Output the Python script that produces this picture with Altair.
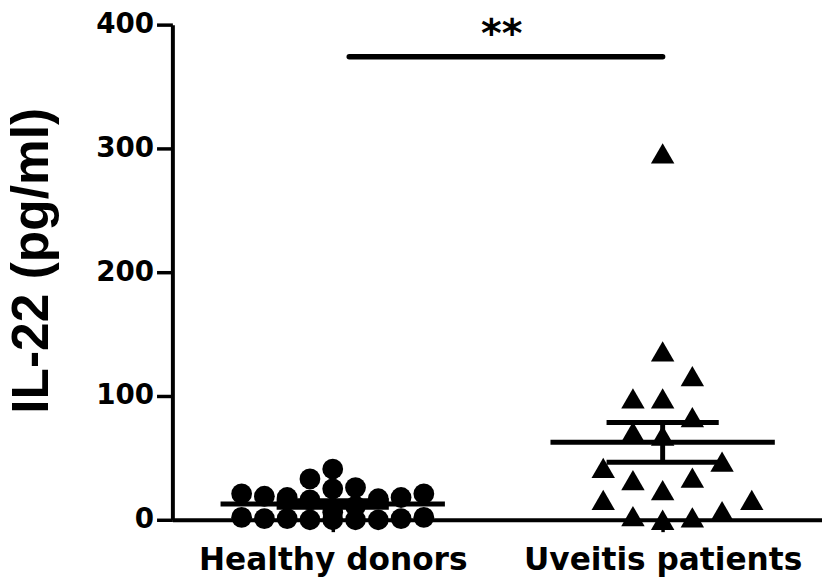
import altair as alt
import pandas as pd
import numpy as np

# ---- data ----
groups = ["Healthy donors", "Uveitis patients"]
healthy = [0, 0, 0, 0, 1, 1, 1, 2, 2,
           17, 18, 18, 19,
           6, 11, 16, 21, 26,
           21, 25,
           33, 41]
uveitis = [0, 2, 3, 7, 16, 16, 24, 32, 34, 42, 47,
           68, 71, 83, 98, 98, 116, 136, 296]
y_ticks = [0, 100, 200, 300, 400]
sig_bar = [0.05, 1.0]      # bracket span in category units
sig_value = 374            # bracket height (pg/ml)
sig_text = "**"

# ---- layout constants ----
W, H = 656, 500
Y_MAX = 400
PX_PER_UNIT = H / Y_MAX
X_DOMAIN = [-0.486, 1.483]
PX_PER_CAT = W / (X_DOMAIN[1] - X_DOMAIN[0])


def swarm(values, slot_px, thresh_px, max_slot):
    """Greedy column-scatter: centre first, then alternate sides."""
    placed = []
    out = [0] * len(values)
    side = 1
    for i in sorted(range(len(values)), key=lambda j: values[j]):
        y = values[i] * PX_PER_UNIT
        cand = [0] + [s for k in range(1, max_slot + 1) for s in (side * k, -side * k)]
        best, bestd = None, -1.0
        for s in cand:
            ds = [abs(y - py) for ps, py in placed if ps == s]
            d = min(ds) if ds else 1e9
            if d >= thresh_px:
                best = s
                break
            if d > bestd:
                bestd, best = d, s
        placed.append((best, y))
        if best != 0:
            side = -1 if best > 0 else 1
        out[i] = best * slot_px / PX_PER_CAT
    return out


rows = []
for gi, (vals, slot_px, th, ms) in enumerate([(healthy, 23, 20, 4), (uveitis, 30, 29.5, 3)]):
    offs = swarm(vals, slot_px, th, ms)
    for v, o in zip(vals, offs):
        rows.append({"group": groups[gi], "gi": gi, "x": gi + o, "value": v})
pts = pd.DataFrame(rows)

stats = []
for gi, vals in enumerate([healthy, uveitis]):
    a = np.array(vals, dtype=float)
    m = a.mean()
    sem = a.std(ddof=1) / np.sqrt(len(a))
    stats.append({"gi": gi, "mean": m, "lo": m - sem, "hi": m + sem,
                  "mx1": gi - 0.34, "mx2": gi + 0.34,
                  "sx1": gi - 0.17, "sx2": gi + 0.17})
st = pd.DataFrame(stats)

xs = alt.Scale(domain=X_DOMAIN, nice=False, zero=False)
ys = alt.Scale(domain=[0, Y_MAX], nice=False)

label_expr = "datum.value == 0 ? '%s' : '%s'" % (groups[0], groups[1])

x_axis = alt.Axis(values=[0, 1], labelExpr=label_expr, title=None, grid=False,
                  domainColor="black", domainWidth=4, tickColor="black", tickWidth=3.5,
                  tickSize=12, labelFont="DejaVu Sans", labelFontSize=31.5,
                  labelFontWeight="bold", labelColor="black", labelBaseline="alphabetic",
                  labelPadding=38, labelFlush=False, labelOverlap=False, labelLimit=500)
y_axis = alt.Axis(values=y_ticks, title="IL-22 (pg/ml)", grid=False,
                  domainColor="black", domainWidth=4, tickColor="black", tickWidth=3.5,
                  tickSize=16, labelFont="DejaVu Sans", labelFontSize=28,
                  labelFontWeight="bold", labelColor="black", labelPadding=3,
                  titleFont="Liberation Sans", titleFontSize=52, titleFontWeight="bold",
                  titleColor="black", titleAngle=270, titleBaseline="alphabetic",
                  titleAlign="center", titleX=-126, titleY=238)

X = lambda f: alt.X(f, scale=xs, axis=x_axis)
Y = lambda f: alt.Y(f, scale=ys, axis=y_axis)

base_pts = alt.Chart(pts)
healthy_pts = base_pts.transform_filter("datum.gi == 0").mark_point(
    shape="circle", size=440, filled=True, color="black", opacity=1
).encode(x=X("x:Q"), y=Y("value:Q"))
uveitis_pts = base_pts.transform_filter("datum.gi == 1").mark_point(
    shape="triangle-up", size=560, filled=True, color="black", opacity=1
).encode(x=X("x:Q"), y=Y("value:Q"))

sb = alt.Chart(st)
mean_line = sb.mark_rule(color="black", strokeWidth=5).encode(
    x=X("mx1:Q"), x2="mx2:Q", y=Y("mean:Q"))
sem_hi = sb.mark_rule(color="black", strokeWidth=5).encode(
    x=X("sx1:Q"), x2="sx2:Q", y=Y("hi:Q"))
sem_lo = sb.mark_rule(color="black", strokeWidth=5).encode(
    x=X("sx1:Q"), x2="sx2:Q", y=Y("lo:Q"))
sem_v = sb.mark_rule(color="black", strokeWidth=5).encode(
    x=X("gi:Q"), y=Y("lo:Q"), y2="hi:Q")

sig_df = pd.DataFrame({"x1": [sig_bar[0]], "x2": [sig_bar[1]], "y": [sig_value],
                       "xm": [np.mean([0, 1])], "t": [sig_text]})
sig_line = alt.Chart(sig_df).mark_rule(color="black", strokeWidth=5.5, strokeCap="round").encode(
    x=X("x1:Q"), x2="x2:Q", y=Y("y:Q"))
sig_star = alt.Chart(sig_df).mark_text(font="DejaVu Sans", fontSize=40, fontWeight="bold",
                                       color="black", baseline="middle", dy=-22, dx=4).encode(
    x=X("xm:Q"), y=Y("y:Q"), text="t:N")

chart = alt.layer(mean_line, sem_hi, sem_lo, sem_v, healthy_pts, uveitis_pts,
                  sig_line, sig_star).properties(
    width=W, height=H,
    background="white",
    padding={"left": 166, "top": 14, "right": 0, "bottom": 56},
    autosize=alt.AutoSizeParams(type="none"),
).configure_view(stroke="transparent", strokeWidth=0).configure_axis(grid=False)

chart.save("out.html", embed_options={"renderer": "svg", "actions": False})
